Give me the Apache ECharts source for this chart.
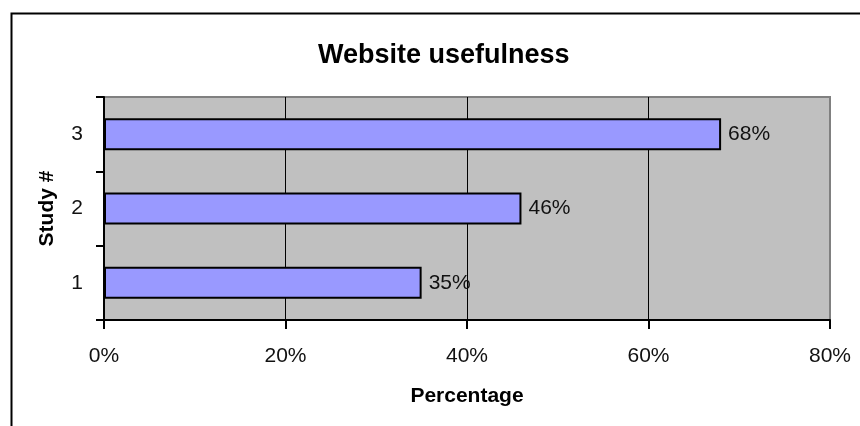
<!DOCTYPE html>
<html>
<head>
<meta charset="utf-8">
<script src="https://cdn.jsdelivr.net/npm/echarts@6/dist/echarts.min.js"></script>
<style>html,body{margin:0;padding:0;background:#fff;}#c{width:860px;height:426px;}</style>
</head>
<body>
<div id="c"></div>
<script>
const categories = ['1', '2', '3'];
const values = [35, 46, 68];
const xTicks = { min: 0, max: 80, interval: 20 };
const titleText = 'Website usefulness';
const xName = 'Percentage';
const yName = 'Study #';

const FONT = '"Liberation Sans", Arial, sans-serif';
const chart = echarts.init(document.getElementById('c'), null, { renderer: 'canvas' });
chart.setOption({
  backgroundColor: '#fff',
  animation: false,
  graphic: [{
    type: 'rect', left: 9, top: 11, z: -10,
    shape: { x: 0, y: 0, width: 1000, height: 1000 },
    style: { fill: 'none', stroke: '#000', lineWidth: 2 }
  }],
  title: {
    text: titleText, left: 313, top: 37,
    textStyle: { fontFamily: FONT, fontSize: 27, fontWeight: 'bold', color: '#000' }
  },
  grid: {
    left: 104, right: 30, top: 97, bottom: 106,
    show: true, backgroundColor: '#c0c0c0', borderColor: '#808080', borderWidth: 2
  },
  xAxis: {
    type: 'value', min: xTicks.min, max: xTicks.max, interval: xTicks.interval,
    name: xName, nameLocation: 'middle', nameGap: 66,
    nameTextStyle: { fontFamily: FONT, fontSize: 21, fontWeight: 'bold', color: '#000' },
    axisLine: { show: true, lineStyle: { color: '#000', width: 2 } },
    axisTick: { show: true, length: 9, lineStyle: { color: '#000', width: 2 } },
    axisLabel: { formatter: '{value}%', fontFamily: FONT, fontSize: 21, color: '#111', margin: 26 },
    splitLine: { show: true, showMinLine: false, showMaxLine: false, lineStyle: { color: '#000', width: 1 } }
  },
  yAxis: {
    type: 'category', data: categories,
    name: yName, nameLocation: 'middle', nameGap: 46, nameRotate: 90,
    nameTextStyle: { fontFamily: FONT, fontSize: 21, fontWeight: 'bold', color: '#000' },
    axisLine: { show: true, lineStyle: { color: '#000', width: 2 } },
    axisTick: { show: true, length: 8, lineStyle: { color: '#000', width: 2 } },
    axisLabel: { fontFamily: FONT, fontSize: 21, color: '#111', margin: 21 },
    splitLine: { show: false }
  },
  series: [{
    type: 'bar', data: values, barWidth: 32,
    itemStyle: { color: '#9999ff', borderColor: '#000', borderWidth: 2 },
    label: { show: true, position: 'right', distance: 7, formatter: '{c}%',
      fontFamily: FONT, fontSize: 21, color: '#111' }
  }]
});
</script>
</body>
</html>
